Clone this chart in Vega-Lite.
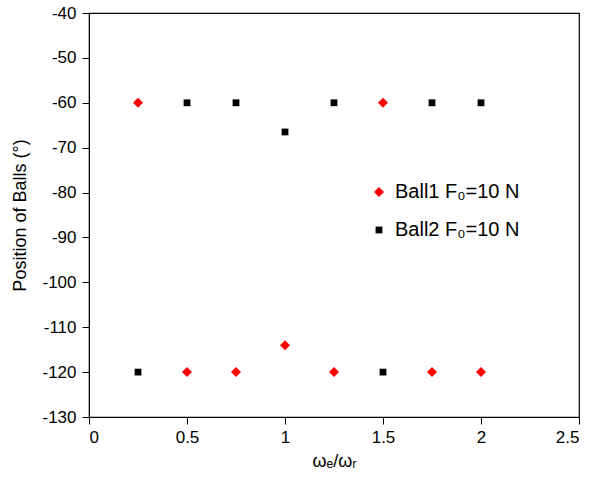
{
  "$schema": "https://vega.github.io/schema/vega-lite/v6.json",
  "width": 490,
  "height": 404,
  "autosize": {"type": "none"},
  "padding": {"left": 89, "top": 13, "right": 13, "bottom": 67},
  "background": "white",
  "config": {
    "font": "Liberation Sans",
    "view": {"stroke": "black", "strokeWidth": 1.2},
    "axis": {
      "grid": false,
      "domainColor": "black",
      "tickColor": "black",
      "tickSize": 7,
      "labelColor": "black",
      "titleColor": "black",
      "labelFontSize": 17,
      "titleFontSize": 18,
      "titleFontWeight": "normal",
      "labelFont": "Liberation Sans",
      "titleFont": "Liberation Sans",
      "labelExpr": "'' + datum.value"
    }
  },
  "data": {
    "values": [
      {"x": 0.25, "y": -60, "s": "Ball1"},
      {"x": 0.5, "y": -120, "s": "Ball1"},
      {"x": 0.75, "y": -120, "s": "Ball1"},
      {"x": 1.0, "y": -114, "s": "Ball1"},
      {"x": 1.25, "y": -120, "s": "Ball1"},
      {"x": 1.5, "y": -60, "s": "Ball1"},
      {"x": 1.75, "y": -120, "s": "Ball1"},
      {"x": 2.0, "y": -120, "s": "Ball1"},
      {"x": 0.25, "y": -120, "s": "Ball2"},
      {"x": 0.5, "y": -60, "s": "Ball2"},
      {"x": 0.75, "y": -60, "s": "Ball2"},
      {"x": 1.0, "y": -66.5, "s": "Ball2"},
      {"x": 1.25, "y": -60, "s": "Ball2"},
      {"x": 1.5, "y": -120, "s": "Ball2"},
      {"x": 1.75, "y": -60, "s": "Ball2"},
      {"x": 2.0, "y": -60, "s": "Ball2"}
    ]
  },
  "mark": {"type": "point", "filled": true, "opacity": 1, "size": 64},
  "encoding": {
    "x": {
      "field": "x", "type": "quantitative",
      "scale": {"domain": [0, 2.5], "nice": false, "zero": false},
      "axis": {"values": [0, 0.5, 1, 1.5, 2, 2.5], "title": "ωₑ/ωᵣ", "titlePadding": 7, "labelPadding": 5}
    },
    "y": {
      "field": "y", "type": "quantitative",
      "scale": {"domain": [-130, -40], "nice": false, "zero": false},
      "axis": {"values": [-130, -120, -110, -100, -90, -80, -70, -60, -50, -40], "title": "Position of Balls (°)", "titlePadding": 12, "labelPadding": 6}
    },
    "shape": {
      "field": "s", "type": "nominal",
      "scale": {"domain": ["Ball1", "Ball2"], "range": ["M-1.25,0L0,-1.25L1.25,0L0,1.25Z", "M-0.85,-0.85H0.85V0.85H-0.85Z"]},
      "legend": {
        "orient": "none", "legendX": 280, "legendY": 169, "title": null,
        "labelExpr": "datum.label + ' F₀=10 N'",
        "labelFontSize": 20, "labelColor": "black", "labelFont": "Liberation Sans",
        "rowPadding": 18, "symbolSize": 64, "labelOffset": 6, "padding": 0
      }
    },
    "color": {
      "field": "s", "type": "nominal",
      "scale": {"domain": ["Ball1", "Ball2"], "range": ["#ff0000", "#000000"]},
      "legend": {
        "orient": "none", "legendX": 280, "legendY": 169, "title": null,
        "labelExpr": "datum.label + ' F₀=10 N'",
        "labelFontSize": 20, "labelColor": "black", "labelFont": "Liberation Sans",
        "rowPadding": 18, "symbolSize": 64, "labelOffset": 6, "padding": 0
      }
    }
  }
}
